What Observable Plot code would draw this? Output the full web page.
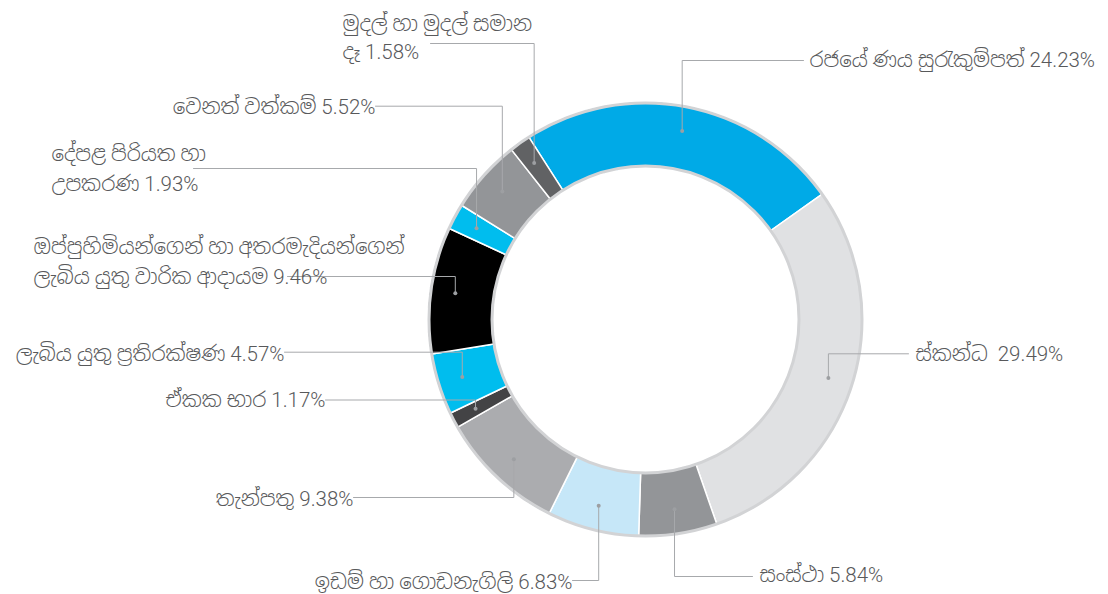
<!DOCTYPE html>
<html>
<head>
<meta charset="utf-8">
<script src="https://cdn.jsdelivr.net/npm/d3@7"></script>
<script src="https://cdn.jsdelivr.net/npm/@observablehq/plot@0.6"></script>
<style>
  html, body { margin: 0; padding: 0; background: #ffffff; }
  #chart svg { display: block; }
</style>
</head>
<body>
<div id="chart"></div>
<script>
// ---- Data (clockwise from the top-left) ----
const categories = [
  "රජයේ ණය සුරැකුම්පත්",
  "ස්කන්ධ ",
  "සංස්ථා",
  "ඉඩම් හා ගොඩනැගිලි",
  "තැන්පතු",
  "ඒකක භාර",
  "ලැබිය යුතු ප්\u200Dරතිරක්ෂණ",
  "ඔප්පුහිමියන්ගෙන් හා අතරමැදියන්ගෙන්\nලැබිය යුතු වාරික ආදායම",
  "දේපළ පිරියත හා\nඋපකරණ",
  "වෙනත් වත්කම්",
  "මුදල් හා මුදල් සමාන\nදෑ"
];
const values = [24.23, 29.49, 5.84, 6.83, 9.38, 1.17, 4.57, 9.46, 1.93, 5.52, 1.58];

// ---- Styles ----
const sliceColors = [
  "#00aae7", "#e0e1e3", "#939598", "#c6e7f8", "#abacaf", "#434345",
  "#00bdee", "#000000", "#00bdee", "#939598", "#616264"
];

// ---- Label layout (pixels): leader y, leader end x, text x, anchor, line baselines ----
const labelLayout = [
  {lineY: 60,    lineX: 803, textX: 809, anchor: "start", baselines: [66.7]},
  {lineY: 353.3, lineX: 908, textX: 915, anchor: "start", baselines: [360.7]},
  {lineY: 576,   lineX: 752, textX: 759, anchor: "start", baselines: [581.7]},
  {lineY: 580,   lineX: 572, textX: 572, anchor: "end",   baselines: [588]},
  {lineY: 497,   lineX: 353, textX: 353, anchor: "end",   baselines: [505]},
  {lineY: 399.5, lineX: 325, textX: 325, anchor: "end",   baselines: [406.7]},
  {lineY: 351.7, lineX: 284, textX: 284, anchor: "end",   baselines: [360]},
  {lineY: 276,   lineX: 287, textX: 33,  anchor: "start", baselines: [253, 283]},
  {lineY: 168,   lineX: 193, textX: 51,  anchor: "start", baselines: [160, 190]},
  {lineY: 105.7, lineX: 375, textX: 375, anchor: "end",   baselines: [113]},
  {lineY: 43,    lineX: 430, textX: 342, anchor: "start", baselines: [30, 58]}
];

const W = 1108, H = 594;
const CX = 645, CY = 319;
const R_OUT = 218, R_IN = 152, R_DOT = 192;
const START = -32.6 * Math.PI / 180;
const FONT_SIZE = 20.5;

const total = d3.sum(values);
let acc = 0;
const slices = values.map((v, i) => {
  const a0 = START + (acc / total) * 2 * Math.PI;
  acc += v;
  const a1 = START + (acc / total) * 2 * Math.PI;
  return {i, key: categories[i], value: v, a0, a1, color: sliceColors[i]};
});
const pt = (r, a) => ({x: CX + r * Math.sin(a), y: CY - r * Math.cos(a)});

// ring slice polygons
const polyRows = slices.flatMap(s => {
  const n = Math.max(2, Math.ceil((s.a1 - s.a0) / (Math.PI / 360)));
  const outer = d3.range(n + 1).map(k => pt(R_OUT, s.a0 + (s.a1 - s.a0) * k / n));
  const inner = d3.range(n + 1).map(k => pt(R_IN, s.a1 - (s.a1 - s.a0) * k / n));
  return [...outer, ...inner].map(p => ({...p, key: s.i, color: s.color}));
});

// leader dots and lines
const dotRows = slices.map(s => ({...pt(R_DOT, (s.a0 + s.a1) / 2), key: s.i}));
const leaderRows = slices.flatMap((s, i) => {
  const d = dotRows[i], L = labelLayout[i];
  return [
    {key: i, x: L.lineX, y: L.lineY},
    {key: i, x: d.x, y: L.lineY},
    {key: i, x: d.x, y: d.y}
  ];
});

// label text lines
const textRows = slices.flatMap((s, i) => {
  const L = labelLayout[i];
  const label = `${categories[i]} ${values[i].toFixed(2)}%`;
  return label.split("\n").map((t, j) => ({
    text: t, x: L.textX, y: L.baselines[j] - 0.32 * FONT_SIZE, anchor: L.anchor
  }));
});

const textStyle = {
  fontSize: FONT_SIZE,
  fontFamily: "Roboto, 'Noto Sans Sinhala', 'Iskoola Pota', sans-serif",
  fontWeight: 300,
  fill: "#58595b",
  lineAnchor: "middle"
};

const chart = Plot.plot({
  width: W,
  height: H,
  margin: 0,
  x: {domain: [0, W], range: [0, W], axis: null},
  y: {domain: [0, H], range: [0, H], axis: null},
  color: {type: "identity"},
  marks: [
    Plot.line(polyRows, {x: "x", y: "y", z: "key", fill: "color", stroke: "#ffffff", strokeWidth: 1.5, curve: "linear-closed"}),
    Plot.dot([{x: CX, y: CY}], {x: "x", y: "y", r: R_OUT - 1.5, stroke: "#d2d3d5", strokeWidth: 3, fill: "none"}),
    Plot.dot([{x: CX, y: CY}], {x: "x", y: "y", r: R_IN + 1.5, stroke: "#d2d3d5", strokeWidth: 3, fill: "none"}),
    Plot.line(leaderRows, {x: "x", y: "y", z: "key", stroke: "#a7a9ac", strokeWidth: 1}),
    Plot.dot(dotRows, {x: "x", y: "y", r: 2, fill: "#9d9fa2", stroke: "none"}),
    Plot.text(textRows.filter(d => d.anchor === "start"), {x: "x", y: "y", text: "text", textAnchor: "start", ...textStyle}),
    Plot.text(textRows.filter(d => d.anchor === "end"), {x: "x", y: "y", text: "text", textAnchor: "end", ...textStyle})
  ]
});
document.getElementById("chart").appendChild(chart);
</script>
</body>
</html>
